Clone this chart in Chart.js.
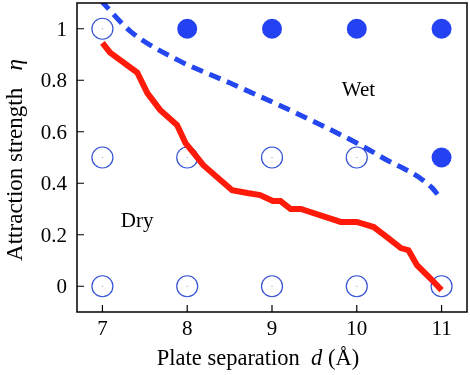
<!DOCTYPE html>
<html>
<head>
<meta charset="utf-8">
<script src="https://cdn.jsdelivr.net/npm/chart.js@4"></script>
<style>
  html, body { margin: 0; padding: 0; background: #fff; }
  #wrap { width: 470px; height: 375px; }
</style>
</head>
<body>
<div id="wrap"><canvas id="phaseChart" width="470" height="375"></canvas></div>
<script>
// boundary between dry and wet (red solid)
var dryX = [7.0, 7.09, 7.41, 7.53, 7.68, 7.88, 7.98, 8.07, 8.19, 8.53, 8.71, 8.86, 9.01, 9.1, 9.22, 9.34, 9.81, 10.0, 10.2, 10.36, 10.52, 10.61, 10.71, 10.87, 11.0];
var dryY = [0.945, 0.907, 0.83, 0.75, 0.685, 0.626, 0.556, 0.52, 0.47, 0.373, 0.362, 0.354, 0.331, 0.331, 0.30, 0.30, 0.25, 0.25, 0.23, 0.19, 0.148, 0.14, 0.082, 0.03, -0.015];

// blue dashed curve
var wetX = [6.98, 7.33, 7.88, 8.5, 9.3, 10.0, 10.3, 10.88, 11.0];
var wetY = [1.11, 0.99, 0.88, 0.79, 0.67, 0.556, 0.50, 0.385, 0.335];

// simulation states
var openX = [7, 7, 8, 9, 10, 7, 8, 9, 10, 11];
var openY = [1, 0.5, 0.5, 0.5, 0.5, 0, 0, 0, 0, 0];
var filledX = [8, 9, 10, 11, 11];
var filledY = [1, 1, 1, 1, 0.5];

var xTicks = [7, 8, 9, 10, 11];
var yTicks = [0, 0.2, 0.4, 0.6, 0.8, 1];

var regionLabels = [
    { text: 'Wet', x: 10.02, y: 0.76 },
    { text: 'Dry', x: 7.41, y: 0.25 }
];

function pts(xs, ys) {
    return xs.map(function (x, i) { return { x: x, y: ys[i] }; });
}

var serif = "'Liberation Serif', 'DejaVu Serif', serif";

var framePlugin = {
    id: 'frame',
    afterDraw: function (chart) {
        var ctx = chart.ctx;
        var a = chart.chartArea;
        var xs = chart.scales.x, ys = chart.scales.y;
        ctx.save();
        ctx.strokeStyle = '#000';
        ctx.lineWidth = 1.5;
        ctx.strokeRect(a.left, a.top, a.right - a.left, a.bottom - a.top);
        // inward ticks
        ctx.lineWidth = 1.2;
        ctx.beginPath();
        xTicks.forEach(function (t) {
            var px = xs.getPixelForValue(t);
            ctx.moveTo(px, a.bottom);
            ctx.lineTo(px, a.bottom - 7);
        });
        yTicks.forEach(function (t) {
            var py = ys.getPixelForValue(t);
            ctx.moveTo(a.left, py);
            ctx.lineTo(a.left + 7, py);
        });
        ctx.stroke();

        // tick labels
        ctx.fillStyle = '#000';
        ctx.font = '21px ' + serif;
        ctx.textBaseline = 'alphabetic';
        ctx.textAlign = 'center';
        xTicks.forEach(function (t) {
            ctx.fillText(String(t), xs.getPixelForValue(t), a.bottom + 23);
        });
        ctx.textAlign = 'right';
        yTicks.forEach(function (t) {
            ctx.fillText(String(t), a.left - 10, ys.getPixelForValue(t) + 7);
        });

        // region labels
        ctx.textAlign = 'center';
        ctx.textBaseline = 'middle';
        regionLabels.forEach(function (l) {
            ctx.fillText(l.text, xs.getPixelForValue(l.x), ys.getPixelForValue(l.y));
        });

        // axis titles with italic symbols
        drawMixed(ctx, [['Plate separation  ', ''], ['d', 'italic '], [' (Å)', '']], 258, 365, 0, 22.5);
        drawMixed(ctx, [['Attraction strength   ', ''], ['η', 'italic ']], 22, 160, -Math.PI / 2, 23);
        ctx.restore();
    }
};

function drawMixed(ctx, parts, cx, cy, rot, size) {
    ctx.save();
    ctx.translate(cx, cy);
    ctx.rotate(rot);
    ctx.textBaseline = 'alphabetic';
    ctx.textAlign = 'left';
    var total = 0;
    parts.forEach(function (p) {
        ctx.font = p[1] + size + 'px ' + serif;
        total += ctx.measureText(p[0]).width;
    });
    var x = -total / 2;
    parts.forEach(function (p) {
        ctx.font = p[1] + size + 'px ' + serif;
        ctx.fillText(p[0], x, 0);
        x += ctx.measureText(p[0]).width;
    });
    ctx.restore();
}

new Chart(document.getElementById('phaseChart').getContext('2d'), {
    type: 'scatter',
    data: {
        datasets: [
            {
                label: 'dry boundary',
                type: 'line',
                data: pts(dryX, dryY),
                borderColor: '#ff1a0a',
                borderWidth: 6,
                pointRadius: 0,
                fill: false,
                tension: 0,
                order: 1
            },
            {
                label: 'wet boundary',
                type: 'line',
                data: pts(wetX, wetY),
                borderColor: '#2447f0',
                borderWidth: 5,
                borderDash: [12, 7],
                pointRadius: 0,
                fill: false,
                cubicInterpolationMode: 'monotone',
                order: 2
            },
            {
                label: 'dry states',
                data: pts(openX, openY),
                pointRadius: 10.5,
                pointBorderWidth: 1.2,
                pointBorderColor: '#3552d4',
                pointBackgroundColor: 'rgba(0,0,0,0)',
                order: 3
            },
            {
                label: 'dry centres',
                data: pts(openX, openY),
                pointRadius: 0.6,
                pointBorderWidth: 0,
                pointBackgroundColor: '#7a8ee0',
                order: 3
            },
            {
                label: 'wet states',
                data: pts(filledX, filledY),
                pointRadius: 10,
                pointBorderWidth: 0,
                pointBackgroundColor: '#2442f2',
                order: 4
            }
        ]
    },
    plugins: [framePlugin],
    options: {
        responsive: false,
        animation: false,
        layout: { autoPadding: false, padding: { top: 3, right: 3, left: 0, bottom: 0 } },
        plugins: {
            legend: { display: false },
            tooltip: { enabled: false }
        },
        scales: {
            x: {
                type: 'linear',
                min: 6.7,
                max: 11.3,
                afterFit: function (s) { s.height = 63; },
                grid: { display: false, drawTicks: false },
                border: { display: false },
                ticks: { display: false }
            },
            y: {
                type: 'linear',
                min: -0.1,
                max: 1.1,
                afterFit: function (s) { s.width = 77; },
                grid: { display: false, drawTicks: false },
                border: { display: false },
                ticks: { display: false }
            }
        }
    }
});
</script>
</body>
</html>
